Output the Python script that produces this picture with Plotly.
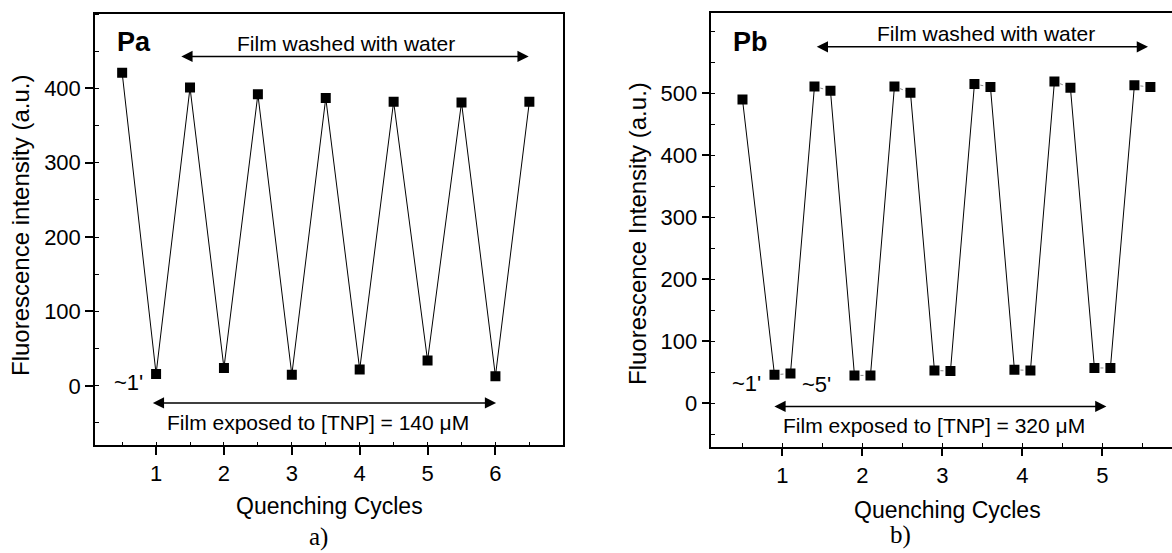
import plotly.graph_objects as go

W, H = 1172, 553

# ---- data: panel a (Pa) ----
pa_cycles = [0.5, 1, 1.5, 2, 2.5, 3, 3.5, 4, 4.5, 5, 5.5, 6, 6.5]
pa_intensity = [421, 16, 401, 24, 392, 15, 387, 22, 382, 34, 381, 13, 382]
pa_ticks = [1, 2, 3, 4, 5, 6]
pa_yticks = [0, 100, 200, 300, 400]

# ---- data: panel b (Pb) ----
pb_cycles = [0.5, 0.9, 1.1, 1.4, 1.6, 1.9, 2.1, 2.4, 2.6, 2.9, 3.1,
             3.4, 3.6, 3.9, 4.1, 4.4, 4.6, 4.9, 5.1, 5.4, 5.6]
pb_intensity = [490, 46, 48, 511, 504, 45, 45, 511, 501, 53, 52,
                515, 510, 54, 53, 519, 509, 57, 57, 513, 510]
pb_ticks = [1, 2, 3, 4, 5]
pb_yticks = [0, 100, 200, 300, 400, 500]

FONT = "Liberation Sans, Arial, sans-serif"


def px_x(p):
    return p / W


def px_y(p):
    return 1 - p / H


fig = go.Figure()

fig.add_trace(go.Scatter(
    x=pa_cycles, y=pa_intensity, mode="lines+markers",
    line=dict(color="black", width=1),
    marker=dict(symbol="square", size=10, color="black"),
    xaxis="x", yaxis="y", showlegend=False))

# panel b: long segments solid, short segments (within a pair) dotted grey
solid_x, solid_y, dot_x, dot_y = [], [], [], []
for i in range(len(pb_cycles) - 1):
    seg_x = [pb_cycles[i], pb_cycles[i + 1], None]
    seg_y = [pb_intensity[i], pb_intensity[i + 1], None]
    if abs(pb_intensity[i + 1] - pb_intensity[i]) > 100:
        solid_x += seg_x
        solid_y += seg_y
    else:
        dot_x += seg_x
        dot_y += seg_y

fig.add_trace(go.Scatter(
    x=solid_x, y=solid_y, mode="lines", connectgaps=False,
    line=dict(color="black", width=1),
    xaxis="x2", yaxis="y2", showlegend=False, hoverinfo="skip"))
fig.add_trace(go.Scatter(
    x=dot_x, y=dot_y, mode="lines", connectgaps=False,
    line=dict(color="#888888", width=1, dash="dot"),
    xaxis="x2", yaxis="y2", showlegend=False, hoverinfo="skip"))
fig.add_trace(go.Scatter(
    x=pb_cycles, y=pb_intensity, mode="markers",
    marker=dict(symbol="square", size=10, color="black"),
    xaxis="x2", yaxis="y2", showlegend=False))

axis_common = dict(
    showgrid=False, zeroline=False, linecolor="black", linewidth=1.5,
    ticks="outside", ticklen=8, tickwidth=1.5, tickcolor="black",
    tickfont=dict(family=FONT, size=22, color="black"),
)

minor_x = dict(dtick=0.5, tick0=0, ticks="inside", ticklen=4,
               tickwidth=1, tickcolor="black")
minor_y = dict(dtick=50, tick0=0, ticks="inside", ticklen=4,
               tickwidth=1, tickcolor="black")

fig.update_layout(
    width=W, height=H,
    margin=dict(l=0, r=0, t=0, b=0),
    paper_bgcolor="white", plot_bgcolor="white",
    xaxis=dict(domain=[px_x(95), px_x(563.3)], range=[0.1, 7.0],
               anchor="y", tickvals=pa_ticks, mirror=True,
               minor=minor_x, **axis_common),
    yaxis=dict(domain=[px_y(445.3), px_y(14)], range=[-80, 500],
               anchor="x", tickvals=pa_yticks, mirror=True,
               minor=minor_y, **axis_common),
    xaxis2=dict(domain=[px_x(711.3), 1.0], range=[0.11, 5.87],
                anchor="y2", tickvals=pb_ticks, mirror=True,
                minor=minor_x, **axis_common),
    yaxis2=dict(domain=[px_y(446.7), px_y(12.7)], range=[-70, 630],
                anchor="x2", tickvals=pb_yticks, mirror=False,
                minor=minor_y, **axis_common),
)

ann = []


def text(x, y, s, xref, yref, size=21, bold=False, family=FONT, angle=0,
         yanchor="middle"):
    ann.append(dict(x=x, y=y, xref=xref, yref=yref,
                    text=(f"<b>{s}</b>" if bold else s),
                    showarrow=False, textangle=angle,
                    font=dict(family=family, size=size, color="black"),
                    xanchor="center", yanchor=yanchor))


def darrow(x0, x1, y, xref, yref):
    ann.append(dict(x=x1, y=y, ax=x0, ay=y, xref=xref, yref=yref,
                    axref=xref, ayref=yref, text="", showarrow=True,
                    arrowhead=2, startarrowhead=2, arrowside="end+start",
                    arrowsize=1.5, startarrowsize=1.5, arrowwidth=1.5,
                    arrowcolor="black"))


# panel a
text(0.68, 462, "Pa", "x", "y", size=27, bold=True)
darrow(1.35, 6.49, 443, "x", "y")
text(3.8, 460, "Film washed with water", "x", "y")
darrow(0.93, 6.01, -23, "x", "y")
text(3.39, -50, "Film exposed to [TNP] = 140 μM", "x", "y")
text(0.59, 5, "~1'", "x", "y", size=22)

# panel b
text(0.6, 582, "Pb", "x2", "y2", size=27, bold=True)
darrow(1.41, 5.57, 575, "x2", "y2")
text(3.54, 596, "Film washed with water", "x2", "y2")
darrow(0.88, 5.05, -5, "x2", "y2")
text(2.89, -36, "Film exposed to [TNP] = 320 μM", "x2", "y2")
text(0.555, 32, "~1'", "x2", "y2", size=22)
text(1.42, 30, "~5'", "x2", "y2", size=22)

# axis titles and panel labels (paper coords)
text(px_x(20), px_y(226), "Fluorescence intensity (a.u.)", "paper", "paper",
     size=24, angle=-90)
text(px_x(637), px_y(234), "Fluorescence Intensity (a.u.)", "paper", "paper",
     size=24, angle=-90)
text(px_x(329), px_y(506), "Quenching Cycles", "paper", "paper", size=23)
text(px_x(947), px_y(510), "Quenching Cycles", "paper", "paper", size=23)
SERIF = "Liberation Serif, Times New Roman, serif"
text(px_x(318), 0, "a)", "paper", "paper", size=25, family=SERIF,
     yanchor="bottom")
text(px_x(900), 0.004, "b)", "paper", "paper", size=25, family=SERIF,
     yanchor="bottom")

fig.update_layout(annotations=ann)

fig.write_html("out.html")
